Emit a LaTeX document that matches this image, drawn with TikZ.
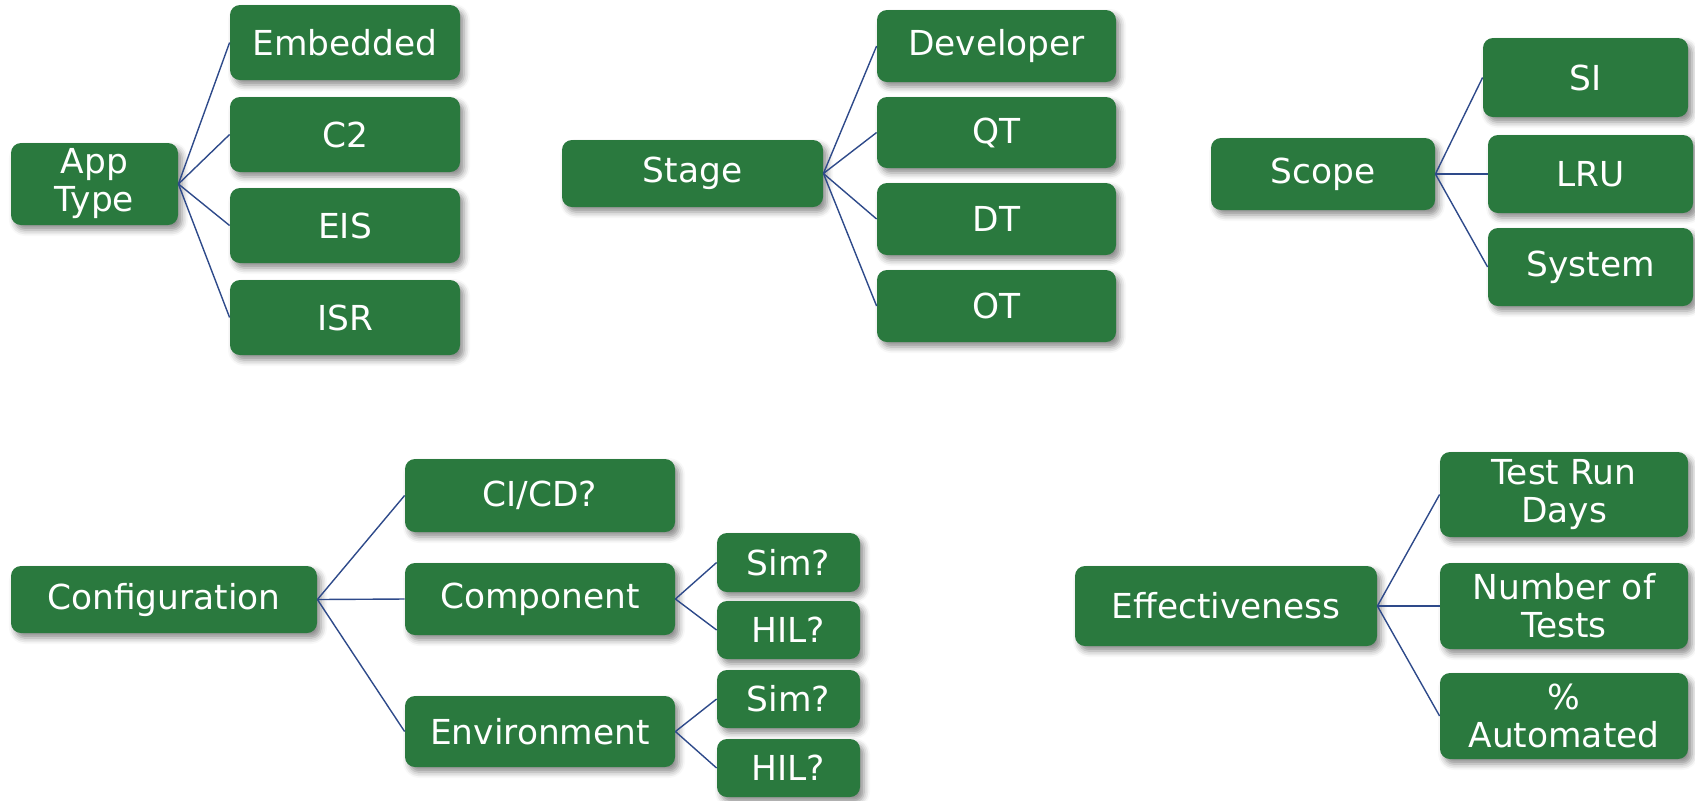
\documentclass[tikz,border=0pt]{standalone}
\usepackage{fontspec}
\setmainfont{DejaVu Sans}
\usetikzlibrary{shadows.blur}
\definecolor{leafgreen}{HTML}{2A793E}
\definecolor{linkblue}{HTML}{2E4A8A}
\tikzset{
  box/.style={rectangle, rounded corners=5pt, fill=leafgreen, text=white,
    inner sep=0pt, align=center, font=\fontsize{17.2}{19}\selectfont,
    blur shadow={shadow xshift=2pt, shadow yshift=-2.5pt, shadow blur radius=3pt, shadow opacity=45}},
  link/.style={draw=linkblue, line width=0.7pt}
}
\begin{document}
\begin{tikzpicture}[x=0.5pt,y=-0.5pt]
\useasboundingbox (0,0) rectangle (1695,800);

% App type tree
\node[box, minimum width=83.5pt, minimum height=41pt] (app) at (94.5,184) {App\\Type};
\node[box, minimum width=115pt, minimum height=37.5pt] (emb) at (345,42.5) {Embedded};
\node[box, minimum width=115pt, minimum height=37.5pt] (c2) at (345,134.5) {C2};
\node[box, minimum width=115pt, minimum height=37.5pt] (eis) at (345,225.5) {EIS};
\node[box, minimum width=115pt, minimum height=37.5pt] (isr) at (345,317.5) {ISR};
\foreach \c in {emb,c2,eis,isr} \draw[link] (app.east) -- (\c.west);

% Stage tree
\node[box, minimum width=130.5pt, minimum height=33.5pt] (stage) at (692.5,173.5) {Stage};
\node[box, minimum width=119.5pt, minimum height=36pt] (dev) at (996.5,46) {Developer};
\node[box, minimum width=119.5pt, minimum height=35.5pt] (qt) at (996.5,132.5) {QT};
\node[box, minimum width=119.5pt, minimum height=36pt] (dt) at (996.5,219) {DT};
\node[box, minimum width=119.5pt, minimum height=36pt] (ot) at (996.5,306) {OT};
\foreach \c in {dev,qt,dt,ot} \draw[link] (stage.east) -- (\c.west);

% Scope tree
\node[box, minimum width=112pt, minimum height=36pt] (scope) at (1323,174) {Scope};
\node[box, minimum width=102.5pt, minimum height=39.5pt] (si) at (1585.5,77.5) {SI};
\node[box, minimum width=102.5pt, minimum height=39pt] (lru) at (1590.5,174) {LRU};
\node[box, minimum width=102.5pt, minimum height=39pt] (sys) at (1590.5,267) {System};
\foreach \c in {si,lru,sys} \draw[link] (scope.east) -- (\c.west);

% Configuration tree
\node[box, minimum width=153pt, minimum height=33.5pt] (conf) at (164,599.5) {Configuration};
\node[box, minimum width=135pt, minimum height=36.5pt] (cicd) at (540,495.5) {CI/CD?};
\node[box, minimum width=135pt, minimum height=36pt] (comp) at (540,599) {Component};
\node[box, minimum width=135pt, minimum height=35.5pt] (env) at (540,731.5) {Environment};
\node[box, minimum width=71.5pt, minimum height=29.5pt] (csim) at (788.5,562.5) {Sim?};
\node[box, minimum width=71.5pt, minimum height=29pt] (chil) at (788.5,630) {HIL?};
\node[box, minimum width=71.5pt, minimum height=29pt] (esim) at (788.5,699) {Sim?};
\node[box, minimum width=71.5pt, minimum height=29pt] (ehil) at (788.5,768) {HIL?};
\foreach \c in {cicd,comp,env} \draw[link] (conf.east) -- (\c.west);
\foreach \c in {csim,chil} \draw[link] (comp.east) -- (\c.west);
\foreach \c in {esim,ehil} \draw[link] (env.east) -- (\c.west);

% Effectiveness tree
\node[box, minimum width=151pt, minimum height=40pt] (eff) at (1226,606) {Effectiveness};
\node[box, minimum width=124pt, minimum height=42.5pt] (trd) at (1564,494.5) {Test Run\\Days};
\node[box, minimum width=124pt, minimum height=43pt] (num) at (1564,606) {Number of\\Tests};
\node[box, minimum width=124pt, minimum height=43pt] (auto) at (1564,716) {\%\\Automated};
\foreach \c in {trd,num,auto} \draw[link] (eff.east) -- (\c.west);
\end{tikzpicture}
\end{document}
